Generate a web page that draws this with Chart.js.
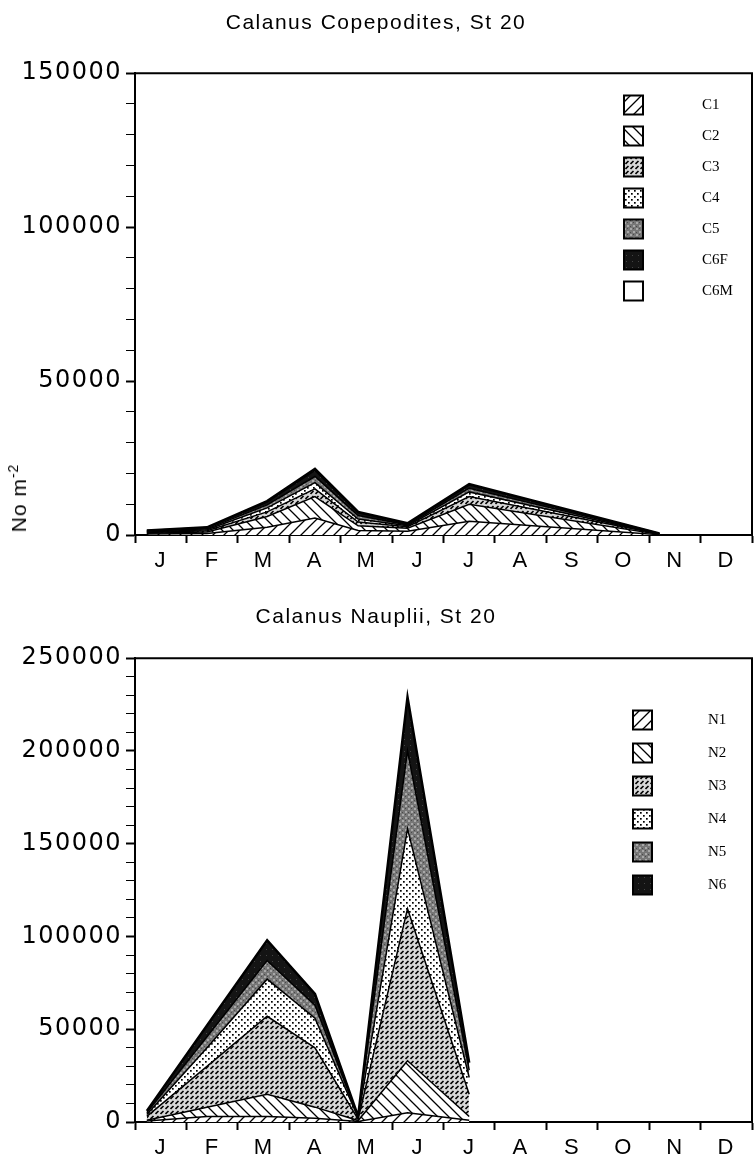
<!DOCTYPE html>
<html>
<head>
<meta charset="utf-8">
<script src="https://cdn.jsdelivr.net/npm/chart.js@4.4.1/dist/chart.umd.min.js"></script>
<style>
  html, body { margin: 0; padding: 0; background: #fff; }
  #wrap { position: relative; width: 755px; height: 1160px; }
  .panel { position: absolute; left: 0; width: 755px; height: 580px; }
  #ylab {
    position: absolute; left: 18px; top: 498px;
    transform: translate(-50%, -50%) rotate(-90deg);
    font: 21px "Liberation Sans", Arial, sans-serif; letter-spacing: 1px; white-space: nowrap;
  }
  #ylab sup { font-size: 14px; }
</style>
</head>
<body>
<div id="wrap">
  <div class="panel" style="top:0"><canvas id="cope" width="755" height="580"></canvas></div>
  <div class="panel" style="top:580px"><canvas id="naup" width="755" height="580"></canvas></div>
  <div id="ylab">No m<sup>-2</sup></div>
</div>
<script>
// month axis: 0 = 1 Jan, 12 = 31 Dec
const monthLabels = ['J', 'F', 'M', 'A', 'M', 'J', 'J', 'A', 'S', 'O', 'N', 'D'];

// copepodites, sampling dates (months) and numbers per stage
const copeTimes = [0.23, 1.4, 2.57, 3.5, 4.34, 5.3, 6.5, 10.2];
const copeStages = ['C1', 'C2', 'C3', 'C4', 'C5', 'C6F', 'C6M'];
const copeC1 = [300, 500, 2500, 5500, 1500, 1200, 4500, 100];
const copeC2 = [300, 500, 3500, 7000, 1500, 1000, 5500, 100];
const copeC3 = [200, 400, 1500, 2500, 1200, 500, 2500, 100];
const copeC4 = [200, 300, 1300, 2000, 1000, 300, 1500, 50];
const copeC5 = [200, 300, 1000, 2000, 1100, 300, 1200, 50];
const copeC6F = [250, 400, 900, 2000, 900, 400, 1000, 80];
const copeC6M = [50, 100, 300, 500, 300, 100, 300, 20];
const copeTickLabels = [0, 50000, 100000, 150000];

// nauplii
const naupTimes = [0.23, 1.4, 2.57, 3.5, 4.34, 5.3, 6.5];
const naupStages = ['N1', 'N2', 'N3', 'N4', 'N5', 'N6'];
const naupN1 = [500, 3000, 3000, 2000, 300, 5000, 1000];
const naupN2 = [500, 5000, 12000, 6000, 500, 28000, 2000];
const naupN3 = [2000, 22000, 42000, 32000, 700, 82000, 12000];
const naupN4 = [1000, 10000, 20000, 16000, 700, 43000, 9000];
const naupN5 = [1000, 6000, 10000, 7000, 500, 42000, 4000];
const naupN6 = [1000, 6000, 11000, 6000, 300, 29000, 4000];
const naupTickLabels = [0, 50000, 100000, 150000, 200000, 250000];

// fill textures
function texture(kind) {
  const c = document.createElement('canvas');
  const s = (kind === 'up' || kind === 'down') ? 11 : (kind === 'dash' ? 5 : 6);
  c.width = c.height = s;
  const g = c.getContext('2d');
  g.fillStyle = '#fff';
  g.fillRect(0, 0, s, s);
  g.strokeStyle = '#000';
  g.fillStyle = '#000';
  if (kind === 'up') {
    g.lineWidth = 1.3;
    g.beginPath();
    g.moveTo(-1, s + 1); g.lineTo(s + 1, -1);
    g.moveTo(-1, 1); g.lineTo(1, -1);
    g.moveTo(s - 1, s + 1); g.lineTo(s + 1, s - 1);
    g.stroke();
  } else if (kind === 'down') {
    g.lineWidth = 1.3;
    g.beginPath();
    g.moveTo(-1, -1); g.lineTo(s + 1, s + 1);
    g.moveTo(s - 1, -1); g.lineTo(s + 1, 1);
    g.moveTo(-1, s - 1); g.lineTo(1, s + 1);
    g.stroke();
  } else if (kind === 'dash') {
    g.fillStyle = '#d8d8d8';
    g.fillRect(0, 0, s, s);
    g.lineWidth = 1.6;
    g.beginPath();
    g.moveTo(0.5, 4); g.lineTo(3.5, 1);
    g.stroke();
  } else if (kind === 'dots') {
    g.fillRect(1, 1, 1.7, 1.7);
    g.fillRect(4, 4, 1.7, 1.7);
  } else if (kind === 'gray') {
    g.fillStyle = '#777';
    g.fillRect(0, 0, s, s);
    g.fillStyle = '#a8a8a8';
    g.fillRect(0, 0, 2, 2); g.fillRect(3, 3, 2, 2);
    g.fillStyle = '#4a4a4a';
    g.fillRect(3, 0, 1, 1); g.fillRect(0, 4, 1, 1);
  } else if (kind === 'black') {
    g.fillStyle = '#141414';
    g.fillRect(0, 0, s, s);
    g.fillStyle = '#444';
    g.fillRect(2, 3, 1, 1);
  }
  return g.createPattern(c, 'repeat');
}

const stageFills = ['up', 'down', 'dash', 'dots', 'gray', 'black', 'white'];

// wider tracking, like the typeset original
const spacing = {
  id: 'spacing',
  beforeUpdate(chart) { chart.ctx.letterSpacing = '1.5px'; },
  beforeDraw(chart) { chart.ctx.letterSpacing = '1.5px'; }
};

// box frame + pattern key drawn inside the plot area
const frameKey = {
  id: 'frameKey',
  afterDraw(chart, args, o) {
    const { ctx, chartArea: a } = chart;
    ctx.save();
    ctx.letterSpacing = '0px';
    ctx.strokeStyle = '#000';
    ctx.lineWidth = 2;
    ctx.beginPath();
    ctx.moveTo(a.left, a.top);
    ctx.lineTo(a.right, a.top);
    ctx.lineTo(a.right, a.bottom);
    ctx.stroke();
    ctx.font = '15px "Liberation Serif", "Times New Roman", serif';
    ctx.textBaseline = 'middle';
    chart.data.datasets.forEach((ds, i) => {
      const y = o.top + i * o.step;
      ctx.fillStyle = ds.backgroundColor;
      ctx.fillRect(o.boxX, y - o.size / 2, o.size, o.size);
      ctx.lineWidth = 2;
      ctx.strokeRect(o.boxX, y - o.size / 2, o.size, o.size);
      ctx.fillStyle = '#000';
      ctx.fillText(ds.label, o.textX, y);
    });
    ctx.restore();
  }
};

function makeChart(id, title, times, stages, series, yMax, tickLabels, layout) {
  const datasets = series.map((vals, i) => ({
    label: stages[i],
    data: times.map((t, k) => ({ x: t, y: vals[k] })),
    backgroundColor: stageFills[i] === 'white' ? '#fff' : texture(stageFills[i]),
    borderColor: '#000',
    borderWidth: i === series.length - 1 ? 2.5 : 1.5,
    pointRadius: 0,
    tension: 0,
    fill: i === 0 ? 'origin' : '-1'
  }));

  return new Chart(document.getElementById(id), {
    type: 'line',
    data: { datasets: datasets },
    plugins: [spacing, frameKey],
    options: {
      responsive: false,
      animation: false,
      events: [],
      layout: { padding: { left: 0, right: 3, top: 0, bottom: 0 } },
      plugins: {
        legend: { display: false },
        tooltip: { enabled: false },
        title: {
          display: true,
          text: title,
          color: '#000',
          font: { family: '"Liberation Sans", Arial, sans-serif', size: 21, weight: 'normal' },
          padding: { top: layout.titleTop, bottom: layout.titleBottom }
        },
        frameKey: layout.key
      },
      scales: {
        x: {
          type: 'linear',
          min: 0,
          max: 12,
          afterBuildTicks: (s) => { s.ticks = monthLabels.map((m, i) => ({ value: i + 0.5 })); },
          afterFit: (s) => { s.height = layout.xHeight; },
          ticks: {
            autoSkip: false,
            maxRotation: 0,
            padding: 5,
            color: '#000',
            font: { family: '"Liberation Sans", Arial, sans-serif', size: 22 },
            callback: (v, i) => monthLabels[i]
          },
          grid: { offset: true, drawOnChartArea: false, tickLength: 8, tickWidth: 2, tickColor: '#000' },
          border: { color: '#000', width: 2 }
        },
        y: {
          stacked: true,
          min: 0,
          max: yMax,
          afterFit: (s) => { s.width = 135; },
          ticks: {
            stepSize: 10000,
            autoSkip: false,
            padding: 4,
            color: '#000',
            font: { family: '"DejaVu Sans", sans-serif', size: 24 },
            callback: (v) => tickLabels.includes(v) ? String(v) : ''
          },
          grid: {
            drawOnChartArea: false,
            tickLength: 9,
            tickColor: '#000',
            tickWidth: (c) => tickLabels.includes(c.tick.value) ? 2 : 1
          },
          border: { color: '#000', width: 2 }
        }
      }
    }
  });
}

makeChart('cope', 'Calanus Copepodites, St 20', copeTimes, copeStages,
  [copeC1, copeC2, copeC3, copeC4, copeC5, copeC6F, copeC6M], 150000, copeTickLabels,
  { titleTop: 11, titleBottom: 37, xHeight: 45,
    key: { boxX: 624, textX: 702, top: 105, step: 31, size: 19 } });

makeChart('naup', 'Calanus Nauplii, St 20', naupTimes, naupStages,
  [naupN1, naupN2, naupN3, naupN4, naupN5, naupN6], 250000, naupTickLabels,
  { titleTop: 25, titleBottom: 28, xHeight: 38,
    key: { boxX: 633, textX: 708, top: 140, step: 33, size: 19 } });
</script>
</body>
</html>
